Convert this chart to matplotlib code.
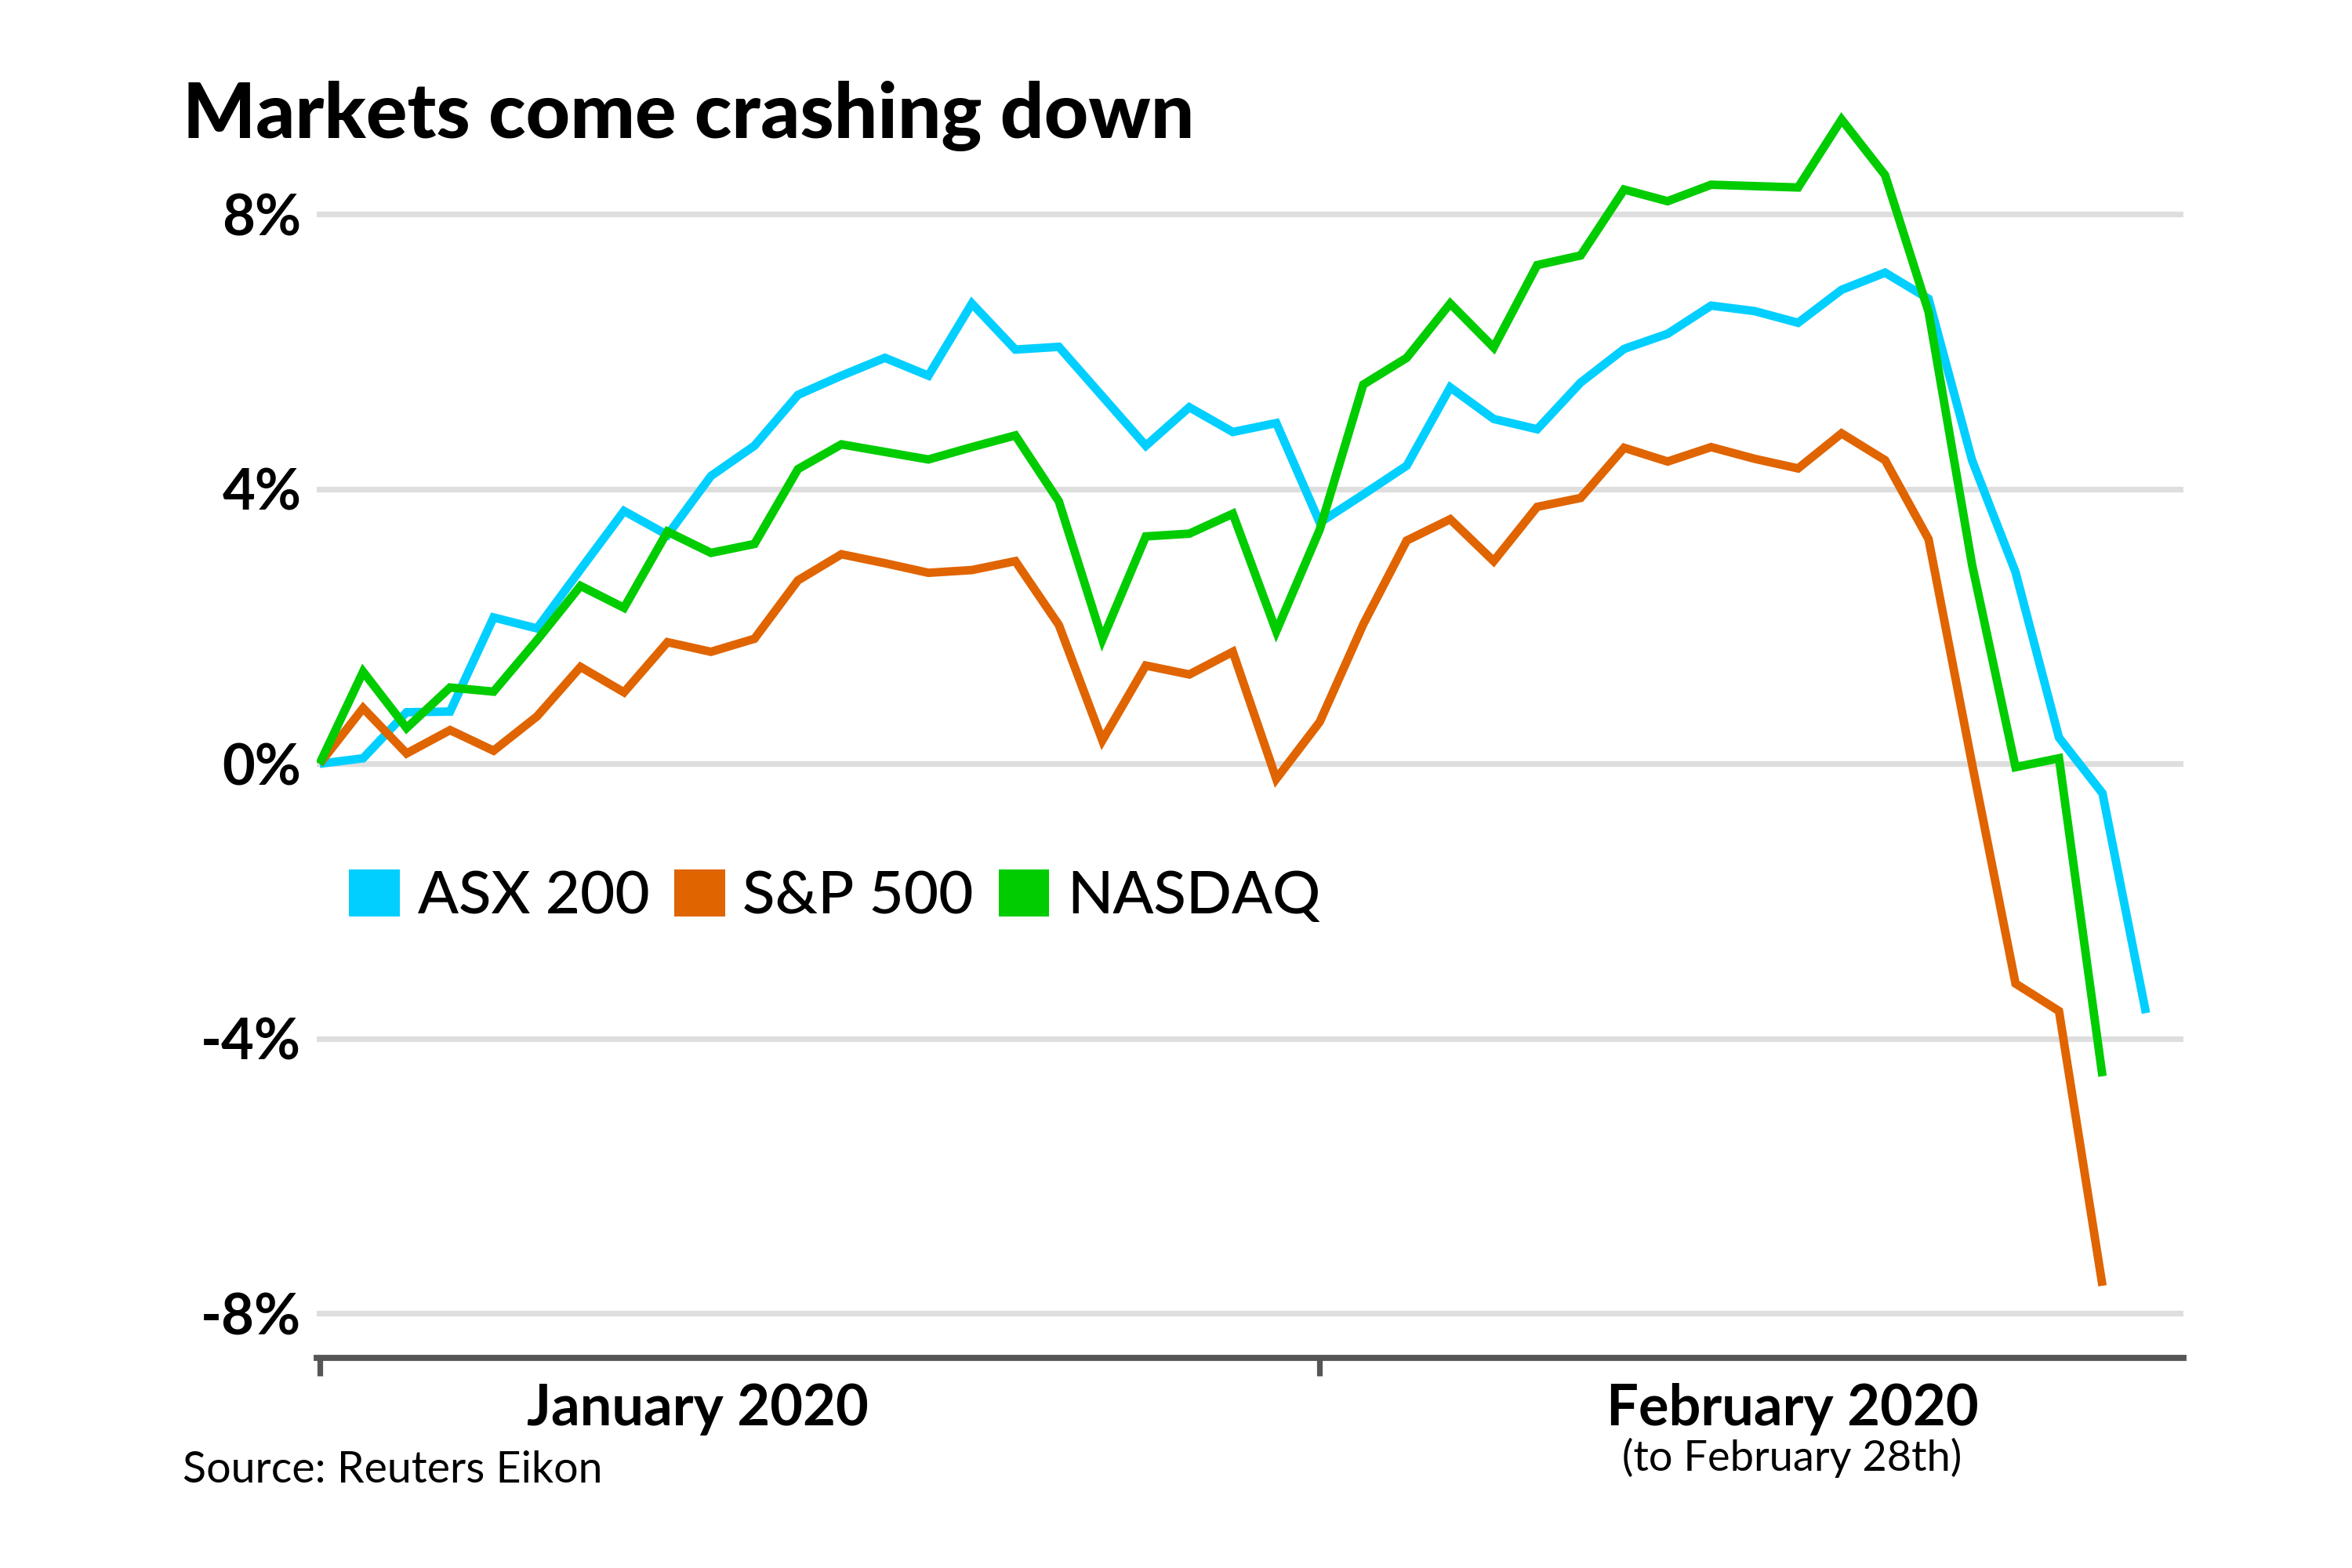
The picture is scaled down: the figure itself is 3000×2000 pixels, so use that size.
import matplotlib
matplotlib.use('Agg')
import matplotlib.pyplot as plt
from matplotlib.patches import Patch

plt.rcParams['font.family'] = ['Lato', 'DejaVu Sans']

# % change since 31 Dec 2019 (one point per trading day)
asx200 = [0.0, 0.08, 0.75, 0.76, 2.13, 1.97, 2.83, 3.68, 3.33, 4.19,
          4.63, 5.37, 5.65, 5.91, 5.65, 6.70, 6.03, 6.07, 5.35, 4.63,
          5.19, 4.83, 4.96, 3.51, 3.92, 4.34, 5.48, 5.02, 4.87, 5.55,
          6.04, 6.26, 6.67, 6.59, 6.42, 6.90, 7.15, 6.77, 4.42, 2.79,
          0.38, -0.43, -3.63]
sp500 = [0.0, 0.81, 0.15, 0.49, 0.19, 0.69, 1.41, 1.04, 1.77, 1.63,
         1.82, 2.67, 3.05, 2.92, 2.78, 2.82, 2.95, 2.02, 0.34, 1.43,
         1.30, 1.63, -0.22, 0.61, 2.03, 3.25, 3.56, 2.95, 3.74, 3.87,
         4.60, 4.40, 4.61, 4.44, 4.30, 4.81, 4.42, 3.27, 0.0, -3.20,
         -3.60, -7.60]
nasdaq = [0.0, 1.34, 0.52, 1.11, 1.05, 1.80, 2.59, 2.27, 3.38, 3.07,
          3.20, 4.29, 4.65, 4.54, 4.43, 4.61, 4.78, 3.82, 1.81, 3.31,
          3.35, 3.64, 1.93, 3.41, 5.52, 5.91, 6.70, 6.06, 7.26, 7.40,
          8.36, 8.19, 8.43, 8.41, 8.39, 9.38, 8.57, 6.58, 2.90, -0.05,
          0.08, -4.55]

series_names = ['ASX 200', 'S&P 500', 'NASDAQ']
series_colors = ['#00cfff', '#e06400', '#00cc00']
y_ticks = [8, 4, 0, -4, -8]
y_labels = ['8%', '4%', '0%', '-4%', '-8%']
month_starts = [0, 23]   # Dec 31 baseline and first trading day of February

fig = plt.figure(figsize=(15, 10), dpi=200)
ax = fig.add_axes([0.1346, 0.1340, 0.7937, 0.8082])

for vals, col in zip([asx200, sp500, nasdaq], series_colors):
    ax.plot(range(len(vals)), vals, color=col, lw=3.9,
            solid_joinstyle='miter', solid_capstyle='butt', zorder=3)

ax.set_xlim(-0.07, 42.86)
ax.set_ylim(-8.65, 9.8)

# gridlines
for t in y_ticks:
    ax.axhline(t, color='#dedede', lw=2.6, zorder=1)

ax.set_yticks(y_ticks)
ax.set_yticklabels(y_labels, fontsize=26, fontweight='bold')
ax.tick_params(axis='y', length=0, pad=7)

ax.set_xticks(month_starts)
ax.set_xticklabels([])
ax.tick_params(axis='x', direction='out', length=8.4, width=2.6, color='#555555')

for s in ['top', 'right', 'left']:
    ax.spines[s].set_visible(False)
ax.spines['bottom'].set_color('#555555')
ax.spines['bottom'].set_linewidth(2.8)

# legend
handles = [Patch(facecolor=c, edgecolor='none') for c in series_colors]
leg = ax.legend(handles, series_names, loc='center left',
                bbox_to_anchor=(0.0175, 0.364), ncol=3, frameon=False,
                borderpad=0, borderaxespad=0, handlelength=0.84,
                handleheight=0.84, handletextpad=0.3, columnspacing=0.42,
                prop={'size': 27.5, 'weight': 'medium'})

# titles / labels
fig.text(0.0778, 0.912, 'Markets come crashing down', fontsize=35.3,
         fontweight='black', ha='left', va='baseline')
fig.text(0.2966, 0.0909, 'January 2020', fontsize=26, fontweight='bold',
         ha='center', va='baseline')
fig.text(0.762, 0.0909, 'February 2020', fontsize=26, fontweight='bold',
         ha='center', va='baseline')
fig.text(0.762, 0.0622, '(to February 28th)', fontsize=19.5,
         ha='center', va='baseline')
fig.text(0.0778, 0.0545, 'Source: Reuters Eikon', fontsize=20,
         ha='left', va='baseline')

fig.savefig('out.png', dpi=200, facecolor='white')
